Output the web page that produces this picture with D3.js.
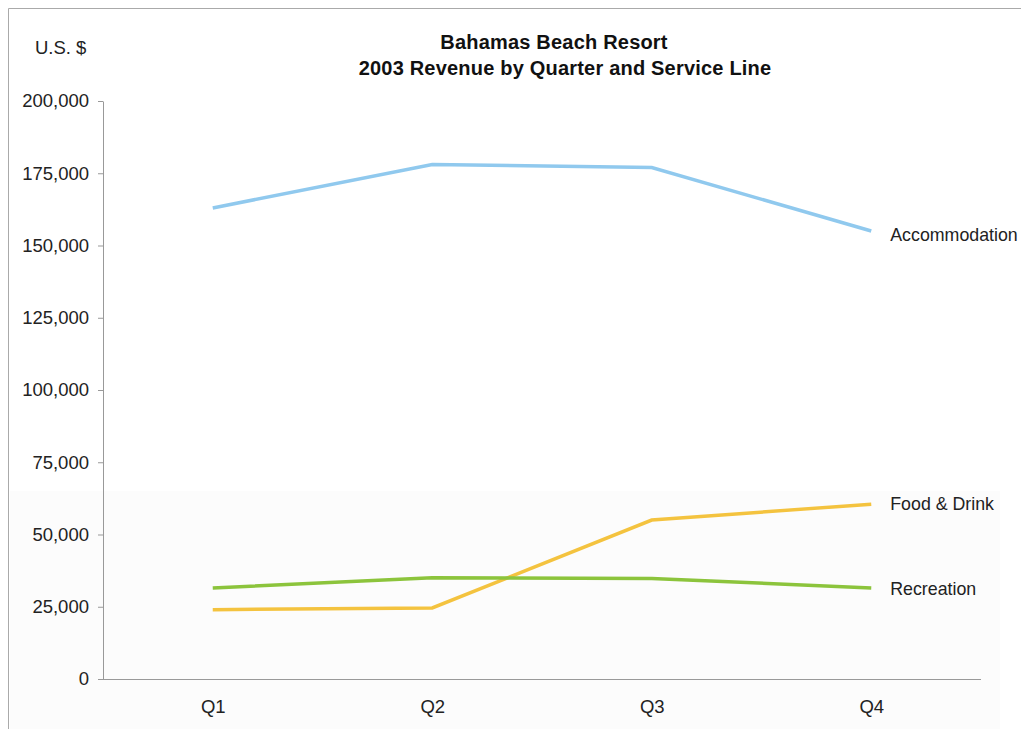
<!DOCTYPE html>
<html>
<head>
<meta charset="utf-8">
<script src="https://cdn.jsdelivr.net/npm/d3@7"></script>
<style>
  body { margin: 0; background: #fff; }
  svg { display: block; font-family: "Liberation Sans", Arial, sans-serif; }
</style>
</head>
<body>
<script>
const quarters = ['Q1', 'Q2', 'Q3', 'Q4']
const accommodation = [163000, 178000, 177000, 155000]
const foodDrink = [24000, 24600, 55000, 60500]
const recreation = [31500, 35000, 34800, 31500]
const yTicks = [0, 25000, 50000, 75000, 100000, 125000, 150000, 175000, 200000]

const series = [
  {name: 'Accommodation', values: accommodation, color: '#90c9ee', dy: 4},
  {name: 'Food & Drink', values: foodDrink, color: '#f4c33f', dy: 0},
  {name: 'Recreation', values: recreation, color: '#8cc43c', dy: 1}
]

const width = 1021
const height = 729
const margin = {top: 101, right: 40, bottom: 50, left: 103}

const svg = d3.select('body').append('svg')
    .attr('width', width)
    .attr('height', height)
    .attr('viewBox', `0 0 ${width} ${height}`)

// faint frame and shaded lower band, as in the original slide
svg.append('rect')
    .attr('x', 10).attr('y', 491)
    .attr('width', 990).attr('height', height - 491)
    .attr('fill', '#fcfcfc')

svg.append('path')
    .attr('d', `M8.5,${height} V8.5 H${width}`)
    .attr('fill', 'none')
    .attr('stroke', '#aaa')

const x = d3.scalePoint()
    .domain(quarters)
    .range([margin.left, width - margin.right])
    .padding(0.5)

const y = d3.scaleLinear()
    .domain([0, 200000])
    .range([height - margin.bottom, margin.top])

const yAxis = g => g
    .attr('transform', `translate(${margin.left},0)`)
    .call(d3.axisLeft(y).tickValues(yTicks).tickFormat(d3.format(',')).tickSize(5).tickSizeOuter(0).tickPadding(9))
    .call(g => g.selectAll('line, .domain').attr('stroke', '#999'))
    .call(g => g.selectAll('text').attr('font-size', 18.5).attr('fill', '#222').attr('font-family', null))

const xAxis = g => g
    .attr('transform', `translate(0,${height - margin.bottom})`)
    .call(d3.axisBottom(x).tickSize(0).tickSizeOuter(0).tickPadding(21))
    .call(g => g.select('.domain').attr('stroke', '#999').attr('d', `M${margin.left},0.5H${width - margin.right}`))
    .call(g => g.selectAll('text').attr('font-size', 18.5).attr('fill', '#222').attr('font-family', null))

svg.append('g').call(xAxis)
svg.append('g').call(yAxis)

const line = d3.line()
    .x((d, i) => x(quarters[i]))
    .y(d => y(d))

const g = svg.append('g')
  .selectAll('g')
  .data(series)
  .join('g')

g.append('path')
    .attr('d', s => line(s.values))
    .attr('fill', 'none')
    .attr('stroke', s => s.color)
    .attr('stroke-width', 3.5)

g.append('text')
    .attr('x', x('Q4') + 19)
    .attr('y', s => y(s.values[3]) + s.dy)
    .attr('dy', '0.35em')
    .attr('font-size', 17.8)
    .attr('fill', '#222')
    .text(s => s.name)

svg.append('text')
    .attr('x', 35).attr('y', 54)
    .attr('font-size', 18.5)
    .attr('fill', '#222')
    .text('U.S. $')

const title = svg.append('text')
    .attr('text-anchor', 'middle')
    .attr('font-size', 20)
    .attr('letter-spacing', 0.2)
    .attr('font-weight', 'bold')
    .attr('fill', '#111')

title.append('tspan').attr('x', 554).attr('y', 49).text('Bahamas Beach Resort')
title.append('tspan').attr('x', 565).attr('y', 75).text('2003 Revenue by Quarter and Service Line')
</script>
</body>
</html>
